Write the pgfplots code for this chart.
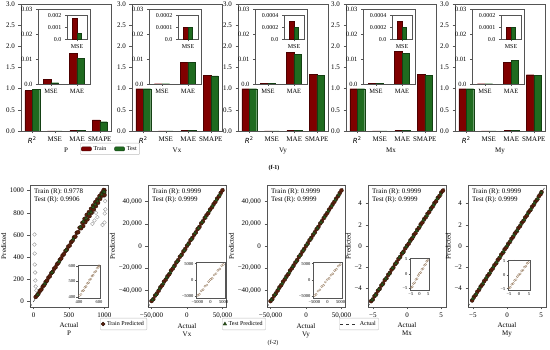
\documentclass[border=0pt]{standalone}
\usepackage{pgfplots}
\pgfplotsset{compat=1.18}
\usepackage{fontspec}
\setmainfont{Liberation Serif}
\newfontfamily\dejavu{DejaVu Sans}
\definecolor{trc}{HTML}{800000}
\definecolor{tec}{HTML}{1F6B1F}
\definecolor{trp}{HTML}{5A200C}
\definecolor{tep}{HTML}{2E5A1C}
\definecolor{frame}{HTML}{555555}
\tikzset{ann/.style={anchor=north west, align=left, inner sep=0pt, font=\fontsize{7}{8}\selectfont}}
\pgfplotsset{
  every axis/.append style={font=\fontsize{7}{8}\selectfont, /pgf/number format/assume math mode=true,
    /pgf/number format/1000 sep={}},
  common/.style={scale only axis, anchor=south west, axis line style={frame, line width=0.5pt},
    tick style={frame, line width=0.4pt}, tick align=outside, xtick pos=bottom, ytick pos=left,
    major tick length=2.5pt, scaled ticks=false},
  barmain/.style={common, width=90pt, height=127pt, xmin=-0.5, xmax=3.5, ymin=0, ymax=3,
    xtick={0,1,2,3}, xticklabels={{\dejavu\textit{R}\textsuperscript{2}},MSE,MAE,SMAPE},
    ytick={0,0.5,1,1.5,2,2.5,3}, yticklabels={0.0,0.5,1.0,1.5,2.0,2.5,3.0},
    xlabel style={yshift=3pt}},
  barmed/.style={common, width=52pt, height=75pt, xmin=-0.5, xmax=1.5, ymin=0, ymax=0.03,
    xtick={0,1}, xticklabels={MSE,MAE}, ytick={0,0.01,0.02,0.03}, yticklabels={0.0,0.01,0.02,0.03},
    axis background/.style={fill=white}, font=\fontsize{6.5}{7.5}\selectfont, major tick length=2pt},
  barsmall/.style={common, width=20pt, height=24pt, xmin=-0.5, xmax=0.5, ymin=0,
    xtick={0}, xticklabels={MSE}, axis background/.style={fill=white},
    font=\fontsize{6}{7}\selectfont, major tick length=2pt},
  trbar/.style={ybar, bar width=0.33, bar shift=-0.165, fill=trc, draw=trc!60!black, line width=0.3pt},
  tebar/.style={ybar, bar width=0.33, bar shift=0.165, fill=tec, draw=tec!60!black, line width=0.3pt},
  trbarm/.style={ybar, bar width=0.29, bar shift=-0.145, fill=trc, draw=trc!60!black, line width=0.3pt},
  tebarm/.style={ybar, bar width=0.29, bar shift=0.145, fill=tec, draw=tec!60!black, line width=0.3pt},
  trbars/.style={ybar, bar width=0.23, bar shift=-0.115, fill=trc, draw=trc!60!black, line width=0.3pt},
  tebars/.style={ybar, bar width=0.23, bar shift=0.115, fill=tec, draw=tec!60!black, line width=0.3pt},
  scat/.style={common, width=78pt, height=122pt, ylabel={Predicted}, xlabel style={align=center, yshift=2pt},
    ylabel style={yshift=-3pt}},
  sinset/.style={common, axis background/.style={fill=white}, font=\fontsize{4.5}{5}\selectfont,
    major tick length=1.5pt, xticklabel style={inner sep=1pt}, yticklabel style={inner sep=1pt}},
  trpts/.style={only marks, mark=*, mark size=2pt, mark options={fill=trp, draw=trp!50!black, line width=0.3pt}},
  tepts/.style={only marks, mark=triangle*, mark size=2pt, mark options={fill=tep, draw=tep!50!black, line width=0.3pt}},
  hpts/.style={only marks, mark=o, mark size=1.9pt, mark options={draw=gray!80, line width=0.4pt}},
  ipts/.style={only marks, mark=o, mark size=1.1pt, mark options={draw=brown!60!black!70, fill=brown!20, line width=0.3pt}},
  actl/.style={black!80, dashed, line width=0.5pt},
  legax/.style={hide axis, scale only axis, width=10pt, height=10pt, xmin=0, xmax=1, ymin=0, ymax=1, anchor=north west,
    legend style={at={(0,1)}, anchor=north west, draw=black!25, rounded corners=1pt, font=\fontsize{6}{7}\selectfont,
      inner sep=1pt, /tikz/every even column/.append style={column sep=6pt}}, legend cell align=left}
}
\begin{document}
\begin{tikzpicture}
\useasboundingbox (0pt,0pt) rectangle (550pt,350pt);
%================ TOP ROW =================
% ---- P
\begin{axis}[barmain, at={(21pt,219pt)}, xlabel={P}]
\addplot[trbar] coordinates {(0,0.955) (1,0.0018) (2,0.0122) (3,0.26)};
\addplot[tebar] coordinates {(0,0.982) (1,0.0005) (2,0.0102) (3,0.22)};
\end{axis}
\begin{axis}[barmed, at={(38pt,266pt)}]
\addplot[trbarm] coordinates {(0,0.0018) (1,0.0122)};
\addplot[tebarm] coordinates {(0,0.0005) (1,0.0102)};
\end{axis}
\begin{axis}[barsmall, at={(67pt,310.5pt)}, ymax=0.002, ytick={0,0.001,0.002}, yticklabels={0.0,0.001,0.002}]
\addplot[trbars] coordinates {(0,0.0018)};
\addplot[tebars] coordinates {(0,0.0005)};
\end{axis}
% ---- Vx
\begin{axis}[barmain, at={(132pt,219pt)}, xlabel={Vx}]
\addplot[trbar] coordinates {(0,0.9999) (1,0.0001) (2,0.0086) (3,1.32)};
\addplot[tebar] coordinates {(0,0.9999) (1,0.0001) (2,0.0086) (3,1.30)};
\end{axis}
\begin{axis}[barmed, at={(149pt,266pt)}]
\addplot[trbarm] coordinates {(0,0.0001) (1,0.0086)};
\addplot[tebarm] coordinates {(0,0.0001) (1,0.0086)};
\end{axis}
\begin{axis}[barsmall, at={(178pt,310.5pt)}, ymax=0.0002, ytick={0,0.0001,0.0002}, yticklabels={0.0,0.0001,0.0002}]
\addplot[trbars] coordinates {(0,0.0001)};
\addplot[tebars] coordinates {(0,0.0001)};
\end{axis}
% ---- Vy
\begin{axis}[barmain, at={(238pt,219pt)}, xlabel={Vy}]
\addplot[trbar] coordinates {(0,0.9999) (1,0.0003) (2,0.0126) (3,1.34)};
\addplot[tebar] coordinates {(0,0.9999) (1,0.0002) (2,0.0118) (3,1.32)};
\end{axis}
\begin{axis}[barmed, at={(255pt,266pt)}]
\addplot[trbarm] coordinates {(0,0.0003) (1,0.0126)};
\addplot[tebarm] coordinates {(0,0.0002) (1,0.0118)};
\end{axis}
\begin{axis}[barsmall, at={(284pt,310.5pt)}, ymax=0.0004, ytick={0,0.0002,0.0004}, yticklabels={0.0,0.0002,0.0004}]
\addplot[trbars] coordinates {(0,0.00031)};
\addplot[tebars] coordinates {(0,0.00021)};
\end{axis}
% ---- Mx
\begin{axis}[barmain, at={(346pt,219pt)}, xlabel={Mx}]
\addplot[trbar] coordinates {(0,0.9999) (1,0.0003) (2,0.0130) (3,1.34)};
\addplot[tebar] coordinates {(0,0.9999) (1,0.0002) (2,0.0123) (3,1.31)};
\end{axis}
\begin{axis}[barmed, at={(363pt,266pt)}]
\addplot[trbarm] coordinates {(0,0.0003) (1,0.0130)};
\addplot[tebarm] coordinates {(0,0.0002) (1,0.0123)};
\end{axis}
\begin{axis}[barsmall, at={(392pt,310.5pt)}, ymax=0.0004, ytick={0,0.0002,0.0004}, yticklabels={0.0,0.0002,0.0004}]
\addplot[trbars] coordinates {(0,0.0003)};
\addplot[tebars] coordinates {(0,0.0002)};
\end{axis}
% ---- My
\begin{axis}[barmain, at={(455pt,219pt)}, xlabel={My}]
\addplot[trbar] coordinates {(0,0.9999) (1,0.0001) (2,0.0086) (3,1.33)};
\addplot[tebar] coordinates {(0,0.9999) (1,0.0001) (2,0.0094) (3,1.31)};
\end{axis}
\begin{axis}[barmed, at={(472pt,266pt)}]
\addplot[trbarm] coordinates {(0,0.0001) (1,0.0086)};
\addplot[tebarm] coordinates {(0,0.0001) (1,0.0094)};
\end{axis}
\begin{axis}[barsmall, at={(501pt,310.5pt)}, ymax=0.0002, ytick={0,0.0001,0.0002}, yticklabels={0.0,0.0001,0.0002}]
\addplot[trbars] coordinates {(0,0.0001)};
\addplot[tebars] coordinates {(0,0.0001)};
\end{axis}
% top legend
\begin{axis}[legax, at={(80pt,207pt)}, legend columns=2,
  legend image code/.code={\draw[#1] (0pt,-2pt) rectangle (10pt,2pt);}]
\addlegendimage{fill=trc, draw=trc!60!black}
\addlegendentry{Train}
\addlegendimage{fill=tec, draw=tec!60!black}
\addlegendentry{Test}
\end{axis}
\node[font=\bfseries\fontsize{6}{7}\selectfont] at (274pt,182pt) {(f-1)};
%================ BOTTOM ROW =================
% ---- P
\begin{axis}[scat, at={(30pt,43pt)}, xmin=-50, xmax=1050, ymin=-50, ymax=1050,
  xtick={0,500,1000}, ytick={0,200,400,600,800,1000}, xlabel={Actual\\P}]
\addplot[actl] coordinates {(-50,-50) (1050,1050)};
\addplot[hpts] coordinates {(14,604) (12,513) (16,432) (18,333) (22,261) (25,189) (30,135) (40,100)
 (1010,905) (1012,830) (1005,793) (1000,712) (972,690) (880,800) (900,760) (860,730) (1000,950) (830,700)};
\addplot[trpts] coordinates {(30,40) (50,55) (70,72) (90,95) (110,108) (130,135) (150,148) (170,175) (190,188)
 (210,215) (230,228) (250,255) (270,268) (290,295) (310,308) (330,335) (350,348) (370,375) (390,388)
 (410,415) (430,428) (450,455) (470,468) (490,495) (510,505) (530,535) (550,548) (570,578) (590,585)
 (610,620) (630,625) (650,665) (670,660) (690,710) (700,680) (720,745) (730,715) (750,780) (760,740)
 (780,805) (790,770) (810,835) (820,800) (840,865) (850,830) (870,895) (880,860) (900,920) (910,890)
 (930,950) (940,925) (960,975) (970,955) (985,995) (995,980) (1000,1000) (990,1005) (1000,960)};
\addplot[tepts] coordinates {(60,62) (160,160) (260,262) (360,360) (460,462) (560,562) (660,672) (700,720)
 (740,750) (780,790) (810,805) (840,850) (870,875) (900,905) (930,935) (960,965) (985,990) (1000,985)};
\node[ann] at (rel axis cs:0.05,0.97) {Train (R): 0.9778\\Test (R): 0.9906};
\end{axis}
\begin{axis}[sinset, at={(78pt,52pt)}, width=22pt, height=33pt, xmin=390, xmax=610, ymin=395, ymax=605,
  xtick={400,600}, ytick={400,500,600}]
\addplot[ipts] coordinates {(405,410) (420,418) (432,440) (445,443) (458,462) (470,468) (482,488) (495,492)
 (505,510) (518,515) (530,535) (542,540) (555,560) (568,565) (580,585) (592,590) (600,600)};
\end{axis}
% ---- Vx
\begin{axis}[scat, at={(148pt,43pt)}, xmin=-55000, xmax=55000, ymin=-55000, ymax=55000,
  xtick={-50000,0,50000}, xticklabels={{−50,000},{0},{50,000}},
  ytick={-40000,-20000,0,20000,40000}, yticklabels={{−40,000},{−20,000},{0},{20,000},{40,000}},
  xlabel={Actual\\Vx}]
\addplot[actl] coordinates {(-55000,-55000) (55000,55000)};
\addplot[trpts] coordinates {(-50000,-49600) (-47500,-47900) (-45000,-44700) (-42500,-42800) (-40000,-40300)
 (-37500,-37200) (-35000,-35400) (-32500,-32200) (-30000,-30300) (-27500,-27300) (-25000,-25400)
 (-22500,-22100) (-20000,-20300) (-17500,-17700) (-15000,-14800) (-12500,-12800) (-10000,-9700)
 (-7500,-7800) (-5000,-4800) (-2500,-2700) (0,200) (2500,2300) (5000,5300) (7500,7300) (10000,10200)
 (12500,12300) (15000,15300) (17500,17200) (20000,20400) (22500,22300) (25000,25200) (27500,27700)
 (30000,29700) (32500,32800) (35000,34800) (37500,37700) (40000,39800) (42500,42700) (45000,44800)
 (47500,47800) (50000,50200)};
\addplot[tepts] coordinates {(-48750,-48500) (-43750,-44000) (-38750,-38500) (-33750,-34000) (-28750,-28500)
 (-23750,-24000) (-18750,-18500) (-13750,-14000) (-8750,-8500) (-3750,-4000) (1250,1500) (6250,6000)
 (11250,11500) (16250,16000) (21250,21500) (26250,26000) (31250,31500) (36250,36000) (41250,41500) (46250,46000)};
\node[ann] at (rel axis cs:0.05,0.97) {Train (R): 0.9999\\Test (R): 0.9999};
\end{axis}
\begin{axis}[sinset, at={(196pt,52pt)}, width=29pt, height=36pt, xmin=-5500, xmax=5500, ymin=-5500, ymax=5500,
  xtick={-5000,0,5000}, xticklabels={−5000,0,5000}, ytick={-5000,0,5000}, yticklabels={−5000,0,5000}]
\addplot[ipts] coordinates {(-4800,-4700) (-4200,-4350) (-3500,-3300) (-2800,-2950) (-2100,-1900) (-1400,-1550)
 (-700,-500) (0,150) (700,550) (1400,1550) (2100,1950) (2800,2950) (3500,3350) (4200,4350) (4900,4800)};
\end{axis}
% ---- Vy
\begin{axis}[scat, at={(267pt,43pt)}, xmin=-55000, xmax=55000, ymin=-55000, ymax=55000,
  xtick={-50000,0,50000}, xticklabels={{−50,000},{0},{50,000}},
  ytick={-40000,-20000,0,20000,40000}, yticklabels={{−40,000},{−20,000},{0},{20,000},{40,000}},
  xlabel={Actual\\Vy}]
\addplot[actl] coordinates {(-55000,-55000) (55000,55000)};
\addplot[trpts] coordinates {(-50000,-49700) (-47500,-47800) (-45000,-44800) (-42500,-42700) (-40000,-40200)
 (-37500,-37300) (-35000,-35300) (-32500,-32300) (-30000,-30200) (-27500,-27400) (-25000,-25300)
 (-22500,-22200) (-20000,-20200) (-17500,-17600) (-15000,-14900) (-12500,-12700) (-10000,-9800)
 (-7500,-7700) (-5000,-4900) (-2500,-2600) (0,100) (2500,2400) (5000,5200) (7500,7400) (10000,10100)
 (12500,12400) (15000,15200) (17500,17300) (20000,20300) (22500,22400) (25000,25100) (27500,27600)
 (30000,29800) (32500,32700) (35000,34900) (37500,37600) (40000,39900) (42500,42600) (45000,44900)
 (47500,47700) (50000,50100)};
\addplot[tepts] coordinates {(-48750,-48600) (-43750,-43900) (-38750,-38600) (-33750,-33900) (-28750,-28600)
 (-23750,-23900) (-18750,-18600) (-13750,-13900) (-8750,-8600) (-3750,-3900) (1250,1400) (6250,6100)
 (11250,11400) (16250,16100) (21250,21400) (26250,26100) (31250,31400) (36250,36100) (41250,41400) (46250,46100)};
\node[ann] at (rel axis cs:0.05,0.97) {Train (R): 0.9999\\Test (R): 0.9999};
\end{axis}
\begin{axis}[sinset, at={(313pt,52pt)}, width=29pt, height=36pt, xmin=-5500, xmax=5500, ymin=-5500, ymax=5500,
  xtick={-5000,0,5000}, xticklabels={−5000,0,5000}, ytick={-5000,0,5000}, yticklabels={−5000,0,5000}]
\addplot[ipts] coordinates {(-4900,-4800) (-4300,-4400) (-3600,-3400) (-2900,-3000) (-2200,-2000) (-1500,-1600)
 (-800,-600) (-100,100) (600,500) (1300,1450) (2000,1900) (2700,2850) (3400,3300) (4100,4250) (4800,4700)};
\end{axis}
% ---- Mx
\begin{axis}[scat, at={(368pt,43pt)}, xmin=-5.7, xmax=5.7, ymin=-5.75, ymax=5.75,
  xtick={-5,0,5}, xticklabels={−5,0,5}, ytick={-4,-2,0,2,4}, yticklabels={−4,−2,0,2,4},
  xlabel={Actual\\Mx}]
\addplot[actl] coordinates {(-5.7,-5.7) (5.7,5.7)};
\addplot[trpts] coordinates {(-5.25,-5.20) (-5.00,-5.04) (-4.75,-4.72) (-4.50,-4.53) (-4.25,-4.22) (-4.00,-4.04)
 (-3.75,-3.72) (-3.50,-3.53) (-3.25,-3.21) (-3.00,-3.04) (-2.75,-2.72) (-2.50,-2.53) (-2.25,-2.22)
 (-2.00,-2.04) (-1.75,-1.72) (-1.50,-1.53) (-1.25,-1.22) (-1.00,-1.03) (-0.75,-0.72) (-0.50,-0.53)
 (-0.25,-0.22) (0,0.03) (0.25,0.22) (0.50,0.53) (0.75,0.72) (1.00,1.04) (1.25,1.22) (1.50,1.53)
 (1.75,1.72) (2.00,2.04) (2.25,2.22) (2.50,2.53) (2.75,2.72) (3.00,3.04) (3.25,3.22) (3.50,3.53)
 (3.75,3.72) (4.00,4.04) (4.25,4.22) (4.50,4.53) (4.75,4.72) (5.00,5.04) (5.25,5.22)};
\addplot[tepts] coordinates {(-5.1,-5.08) (-4.6,-4.63) (-4.1,-4.07) (-3.6,-3.63) (-3.1,-3.07) (-2.6,-2.63)
 (-2.1,-2.07) (-1.6,-1.63) (-1.1,-1.07) (-0.6,-0.63) (-0.1,-0.07) (0.4,0.43) (0.9,0.87) (1.4,1.43)
 (1.9,1.87) (2.4,2.43) (2.9,2.87) (3.4,3.43) (3.9,3.87) (4.4,4.43) (4.9,4.87)};
\node[ann] at (rel axis cs:0.05,0.97) {Train (R): 0.9999\\Test (R): 0.9999};
\node[anchor=south west, inner sep=1pt, font=\fontsize{6}{7}\selectfont] at (rel axis cs:-0.05,1) {×10\textsuperscript{7}};
\node[anchor=north, inner sep=0.5pt, font=\fontsize{6}{7}\selectfont, yshift=-10.5pt, xshift=-1pt] at (rel axis cs:1,0) {×10\textsuperscript{7}};
\end{axis}
\begin{axis}[sinset, at={(410pt,60pt)}, width=19pt, height=32pt, xmin=-5.5, xmax=5.5, ymin=-5.5, ymax=5.5,
  xtick={-5,0,5}, xticklabels={−5,0,5}, ytick={-5,0,5}, yticklabels={−5,0,5}]
\addplot[ipts] coordinates {(-4.8,-4.6) (-4.2,-4.4) (-3.5,-3.3) (-2.8,-3.0) (-2.1,-1.9) (-1.4,-1.6) (-0.7,-0.5)
 (0,0.2) (0.7,0.5) (1.4,1.6) (2.1,1.9) (2.8,3.0) (3.5,3.3) (4.2,4.4) (4.8,4.7)};
\node[anchor=south west, inner sep=0.5pt, font=\fontsize{4.5}{5}\selectfont] at (rel axis cs:0,1) {×10\textsuperscript{5}};
\node[anchor=north, inner sep=0.5pt, font=\fontsize{4.5}{5}\selectfont, yshift=-6pt] at (rel axis cs:0.95,0) {×10\textsuperscript{5}};
\end{axis}
% ---- My
\begin{axis}[scat, at={(468pt,43pt)}, xmin=-5.7, xmax=5.7, ymin=-5.75, ymax=5.75,
  xtick={-5,0,5}, xticklabels={−5,0,5}, ytick={-4,-2,0,2,4}, yticklabels={−4,−2,0,2,4},
  xlabel={Actual\\My}]
\addplot[actl] coordinates {(-5.7,-5.7) (5.7,5.7)};
\addplot[trpts] coordinates {(-5.10,-5.13) (-4.85,-4.82) (-4.60,-4.63) (-4.35,-4.32) (-4.10,-4.13) (-3.85,-3.82)
 (-3.60,-3.63) (-3.35,-3.32) (-3.10,-3.13) (-2.85,-2.82) (-2.60,-2.63) (-2.35,-2.32) (-2.10,-2.13)
 (-1.85,-1.82) (-1.60,-1.63) (-1.35,-1.32) (-1.10,-1.13) (-0.85,-0.82) (-0.60,-0.63) (-0.35,-0.32)
 (-0.10,-0.13) (0.15,0.18) (0.40,0.37) (0.65,0.68) (0.90,0.87) (1.15,1.18) (1.40,1.37) (1.65,1.68)
 (1.90,1.87) (2.15,2.18) (2.40,2.37) (2.65,2.68) (2.90,2.87) (3.15,3.18) (3.40,3.37) (3.65,3.68)
 (3.90,3.87) (4.15,4.18) (4.40,4.37) (4.65,4.68) (4.90,4.87) (5.05,5.08)};
\addplot[tepts] coordinates {(-5.0,-4.97) (-4.5,-4.53) (-4.0,-3.97) (-3.5,-3.53) (-3.0,-2.97) (-2.5,-2.53)
 (-2.0,-1.97) (-1.5,-1.53) (-1.0,-0.97) (-0.5,-0.53) (0.0,0.03) (0.5,0.47) (1.0,1.03) (1.5,1.47)
 (2.0,2.03) (2.5,2.47) (3.0,3.03) (3.5,3.47) (4.0,4.03) (4.5,4.47) (5.0,5.03)};
\node[ann] at (rel axis cs:0.05,0.97) {Train (R): 0.9999\\Test (R): 0.9999};
\node[anchor=south west, inner sep=1pt, font=\fontsize{6}{7}\selectfont] at (rel axis cs:-0.05,1) {×10\textsuperscript{7}};
\node[anchor=north, inner sep=0.5pt, font=\fontsize{6}{7}\selectfont, yshift=-10.5pt, xshift=-3pt] at (rel axis cs:1,0) {×10\textsuperscript{7}};
\end{axis}
\begin{axis}[sinset, at={(508pt,60pt)}, width=22pt, height=30pt, xmin=-5.5, xmax=5.5, ymin=-5.5, ymax=5.5,
  xtick={-5,0,5}, xticklabels={−5,0,5}, ytick={-5,0,5}, yticklabels={−5,0,5}]
\addplot[ipts] coordinates {(-4.9,-4.7) (-4.3,-4.5) (-3.6,-3.4) (-2.9,-3.1) (-2.2,-2.0) (-1.5,-1.7) (-0.8,-0.6)
 (-0.1,0.1) (0.6,0.4) (1.3,1.5) (2.0,1.8) (2.7,2.9) (3.4,3.2) (4.1,4.3) (4.7,4.6)};
\node[anchor=south west, inner sep=0.5pt, font=\fontsize{4.5}{5}\selectfont] at (rel axis cs:0,1) {×10\textsuperscript{5}};
\node[anchor=north, inner sep=0.5pt, font=\fontsize{4.5}{5}\selectfont, yshift=-6pt] at (rel axis cs:0.95,0) {×10\textsuperscript{5}};
\end{axis}
% bottom legends
\begin{axis}[legax, at={(100pt,32pt)}]
\addlegendimage{only marks, mark=*, mark size=1.9pt, mark options={fill=trp, draw=trp!50!black}}
\addlegendentry{Train Predicted}
\end{axis}
\begin{axis}[legax, at={(222pt,32pt)}]
\addlegendimage{only marks, mark=triangle*, mark size=2pt, mark options={fill=tep, draw=tep!50!black}}
\addlegendentry{Test Predicted}
\end{axis}
\begin{axis}[legax, at={(339pt,32pt)}]
\addlegendimage{black!80, dashed, line width=0.5pt}
\addlegendentry{Actual}
\end{axis}
\node[font=\fontsize{6}{7}\selectfont] at (273pt,7pt) {(f-2)};
\end{tikzpicture}
\end{document}
